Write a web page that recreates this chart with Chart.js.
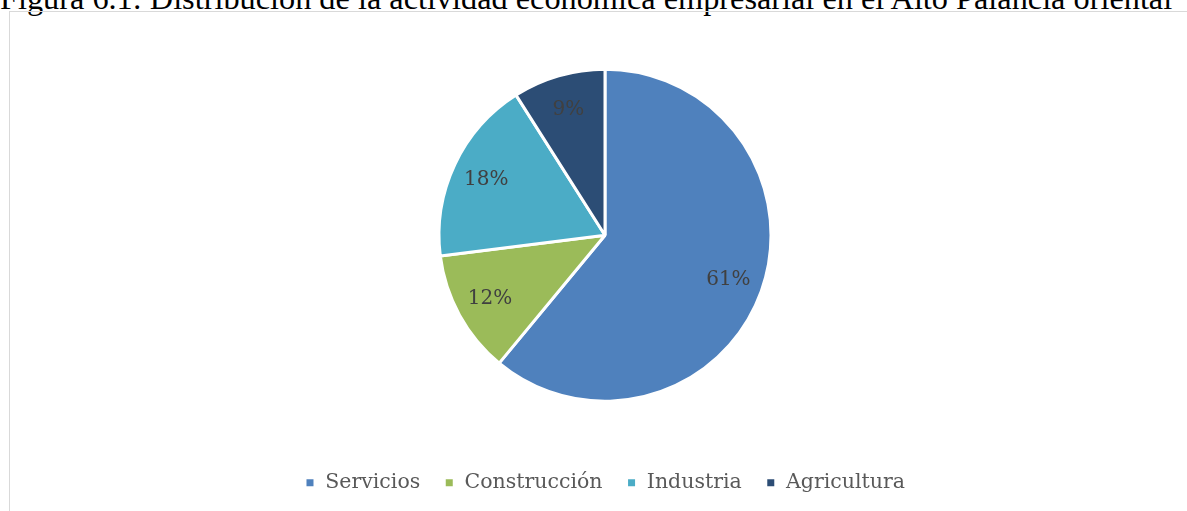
<!DOCTYPE html>
<html>
<head>
<meta charset="utf-8">
<script src="https://cdn.jsdelivr.net/npm/chart.js@4/dist/chart.umd.min.js"></script>
<style>
  html, body { margin: 0; padding: 0; background: #fff; overflow: hidden; }
  #title {
    position: absolute; left: 0; top: -20px; white-space: nowrap;
    font-family: 'Liberation Serif', serif; font-size: 32.3px; color: #000;
  }
  #frame {
    position: absolute; left: 9px; top: 11px; width: 1200px; height: 540px;
    border: 1px solid #d9d9d9;
  }
  #wrap { position: absolute; left: 10px; top: 0; width: 1190px; height: 511px; }
</style>
</head>
<body>
<div id="title">Figura 6.1: Distribución de la actividad económica empresarial en el Alto Palancia oriental</div>
<div id="frame"></div>
<div id="wrap"><canvas id="pie-chart"></canvas></div>
<script>
'use strict'

// data
var categories = ['Servicios', 'Construcción', 'Industria', 'Agricultura']
var shares = [61, 12, 18, 9]
var sliceColors = ['#4F81BD', '#9BBB59', '#4BACC6', '#2C4D75']

// draw the percentage inside each slice
var sliceLabels = {
  id: 'sliceLabels',
  afterDatasetsDraw: function (chart) {
    var ctx = chart.ctx
    var meta = chart.getDatasetMeta(0)
    var values = chart.data.datasets[0].data
    var total = values.reduce(function (a, b) { return a + b }, 0)
    ctx.save()
    ctx.font = '20px "DejaVu Serif"'
    ctx.fillStyle = '#404040'
    ctx.textAlign = 'center'
    ctx.textBaseline = 'middle'
    meta.data.forEach(function (arc, i) {
      var p = arc.getProps(['x', 'y', 'startAngle', 'endAngle', 'outerRadius'], true)
      var mid = (p.startAngle + p.endAngle) / 2
      var r = p.outerRadius * 0.79
      var txt = Math.round(values[i] / total * 100) + '%'
      ctx.fillText(txt, p.x + Math.cos(mid) * r, p.y + Math.sin(mid) * r)
    })
    ctx.restore()
  }
}

var pieCanvas = document.getElementById('pie-chart').getContext('2d')

var pieChart = new Chart(pieCanvas, {
  type: 'pie',
  data: {
    labels: categories,
    datasets: [{
      data: shares,
      backgroundColor: sliceColors,
      borderColor: '#ffffff',
      borderWidth: 3,
      radius: 166
    }]
  },
  options: {
    responsive: true,
    maintainAspectRatio: false,
    animation: false,
    layout: { padding: { top: 22, bottom: 8 } },
    plugins: {
      tooltip: { enabled: false },
      legend: {
        display: true,
        position: 'bottom',
        labels: {
          boxWidth: 10,
          boxHeight: 10,
          padding: 24,
          color: '#595959',
          font: { family: 'DejaVu Serif', size: 20.5 }
        }
      }
    }
  },
  plugins: [sliceLabels]
})
</script>
</body>
</html>
